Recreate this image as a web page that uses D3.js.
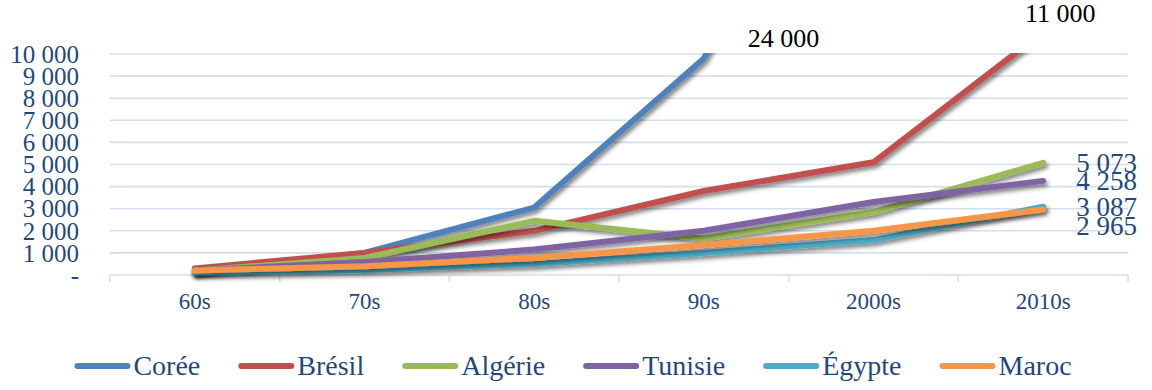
<!DOCTYPE html>
<html>
<head>
<meta charset="utf-8">
<script src="https://cdn.jsdelivr.net/npm/d3@7"></script>
<style>
  html, body { margin: 0; padding: 0; background: #fff; }
  svg { display: block; }
  text { font-family: "Liberation Serif", "Times New Roman", Times, "DejaVu Serif", serif; }
</style>
</head>
<body>
<svg id="chart" width="1152" height="390"></svg>
<script>
// Decades on the x axis
const decades = ["60s", "70s", "80s", "90s", "2000s", "2010s"];

// Average GDP per capita by decade (USD)
const coree   = [150, 1000, 3050, 9800, 24000, null];
const bresil  = [300, 1000, 2000, 3800, 5100, 11000];
const algerie = [200, 770, 2450, 1650, 2850, 5073];
const tunisie = [200, 590, 1150, 2000, 3300, 4258];
const egypte  = [100, 230, 500, 1000, 1580, 3087];
const maroc   = [200, 400, 770, 1360, 2000, 2965];

const seriesNames = ["Corée", "Brésil", "Algérie", "Tunisie", "Égypte", "Maroc"];
const yTicks = [0, 1000, 2000, 3000, 4000, 5000, 6000, 7000, 8000, 9000, 10000];

const series = [
  { name: seriesNames[0], values: coree,   color: "#4F81BD" },
  { name: seriesNames[1], values: bresil,  color: "#C0504D" },
  { name: seriesNames[2], values: algerie, color: "#9BBB59" },
  { name: seriesNames[3], values: tunisie, color: "#8064A2" },
  { name: seriesNames[4], values: egypte,  color: "#4BACC6" },
  { name: seriesNames[5], values: maroc,   color: "#F79646" }
];

const serif = '"Liberation Serif", "Times New Roman", Times, "DejaVu Serif", serif';
const textBlue = "#1F497D";
const gridColor = "#D3DFEF";

const svg = d3.select("#chart");
const plot = { left: 110, right: 1128, top: 54, bottom: 275 };

const x = d3.scaleBand().domain(decades).range([plot.left, plot.right]).padding(0);
const xc = d => x(d) + x.bandwidth() / 2;
const y = d3.scaleLinear().domain([0, 10000]).range([plot.bottom, plot.top]);

const fmt = v => v === 0 ? "-" : d3.format(",")(v).replace(/,/g, " ");

// Drop shadow under the lines
const defs = svg.append("defs");
const f = defs.append("filter").attr("id", "shadow")
  .attr("x", "-10%").attr("y", "-10%").attr("width", "130%").attr("height", "140%");
f.append("feDropShadow").attr("dx", 2).attr("dy", 3).attr("stdDeviation", 2.2)
  .attr("flood-color", "#000").attr("flood-opacity", 0.5);
defs.append("clipPath").attr("id", "plotclip").append("rect")
  .attr("x", 0).attr("y", plot.top - 1).attr("width", 1152).attr("height", 400);

// Horizontal gridlines
svg.append("g").selectAll("line").data(yTicks).join("line")
  .attr("x1", plot.left).attr("x2", plot.right)
  .attr("y1", d => y(d)).attr("y2", d => y(d))
  .attr("stroke", gridColor).attr("stroke-width", 1.6);

// Y axis labels
const yAxis = svg.append("g").attr("transform", `translate(79,0)`)
  .call(d3.axisLeft(y).tickValues(yTicks).tickFormat(fmt).tickSize(0).tickPadding(0))
  .attr("font-family", serif);
yAxis.select(".domain").remove();
yAxis.selectAll("text")
  .attr("font-size", 25).attr("fill", textBlue).attr("dy", "0.33em");

// X axis with tick marks at category boundaries
const xAxis = svg.append("g").attr("transform", `translate(0,${plot.bottom})`)
  .call(d3.axisBottom(x).tickSize(0).tickPadding(0))
  .attr("font-family", serif);
xAxis.select(".domain").remove();
xAxis.selectAll("text")
  .attr("font-size", 23).attr("fill", textBlue).attr("y", 34).attr("dy", 0);
const bounds = decades.map(d => x(d)).concat([x(decades[decades.length - 1]) + x.bandwidth()]);
svg.append("g").selectAll("line").data(bounds).join("line")
  .attr("x1", d => d).attr("x2", d => d)
  .attr("y1", plot.bottom).attr("y2", plot.bottom + 7)
  .attr("stroke", gridColor).attr("stroke-width", 1.6);

// Series lines
const line = d3.line()
  .defined(d => d.v != null)
  .x(d => xc(d.k)).y(d => y(d.v));

svg.append("g").attr("clip-path", "url(#plotclip)")
  .selectAll("path").data(series).join("path")
  .attr("d", s => line(s.values.map((v, i) => ({ k: decades[i], v }))))
  .attr("fill", "none").attr("stroke", s => s.color)
  .attr("stroke-width", 6).attr("stroke-linecap", "round").attr("stroke-linejoin", "round")
  .attr("filter", "url(#shadow)");

// Value labels at the end of the lower series
const last = decades.length - 1;
const endLabels = [
  { s: series[2], dy: 0 },
  { s: series[3], dy: 0 },
  { s: series[4], dy: 0 },
  { s: series[5], dy: 17 }
];
svg.append("g").attr("font-family", serif)
  .selectAll("text").data(endLabels).join("text")
  .attr("x", xc(decades[last]) + 33)
  .attr("y", d => y(d.s.values[last]) + d.dy)
  .attr("dy", "0.33em")
  .attr("font-size", 27).attr("fill", textBlue)
  .text(d => fmt(d.s.values[last]));

// Values that run above the plot area
svg.append("text")
  .attr("x", xc(decades[4]) - 90).attr("y", 38).attr("dy", "0.33em")
  .attr("text-anchor", "middle").attr("font-size", 26).attr("fill", "#000")
  .attr("font-family", serif)
  .text(fmt(coree[4]));
svg.append("text")
  .attr("x", xc(decades[5]) + 17).attr("y", 13).attr("dy", "0.33em")
  .attr("text-anchor", "middle").attr("font-size", 26).attr("fill", "#000")
  .attr("font-family", serif)
  .text(fmt(bresil[5]));

// Legend
const legend = svg.append("g").attr("font-family", serif);
const legendGap = 38;
let cx = 0;
series.forEach(s => {
  const g = legend.append("g").attr("transform", `translate(${cx},0)`);
  g.append("line").attr("x1", 3).attr("x2", 53).attr("y1", 0).attr("y2", 0)
    .attr("stroke", s.color).attr("stroke-width", 6).attr("stroke-linecap", "round");
  const t = g.append("text").attr("x", 59).attr("y", 0).attr("dy", "0.33em")
    .attr("font-size", 28).attr("fill", textBlue).text(s.name);
  cx += 59 + t.node().getComputedTextLength() + legendGap;
});
const legendWidth = cx - legendGap;
legend.attr("transform", `translate(${573 - legendWidth / 2},366)`);
</script>
</body>
</html>
